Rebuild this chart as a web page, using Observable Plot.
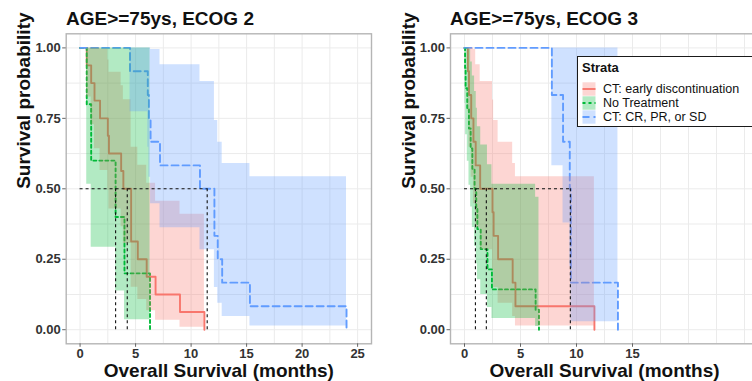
<!DOCTYPE html>
<html><head><meta charset="utf-8">
<script src="https://cdn.jsdelivr.net/npm/d3@7"></script>
<script src="https://cdn.jsdelivr.net/npm/@observablehq/plot@0.6"></script>
<style>
body{margin:0;background:#fff;font-family:"Liberation Sans",Arial,sans-serif;}
#wrap{position:relative;width:752px;height:381px;overflow:hidden;background:#fff;}
.title{position:absolute;top:9px;font-weight:bold;font-size:19px;line-height:19px;color:#111;white-space:nowrap;}
.panel{position:absolute;top:30px;height:351px;}
.panel svg{max-width:none !important;}
.legend{position:absolute;left:577px;top:56px;width:200px;height:69px;border:1.6px solid #1a1a1a;background:#fff;font-size:12.5px;color:#111;}
.legend .hd{position:absolute;left:4px;top:4px;font-weight:bold;font-size:13px;line-height:14px;}
.legend .row{position:absolute;left:4px;height:14px;line-height:14px;white-space:nowrap;}
.legend .row svg{position:absolute;left:0;top:0;}
.legend .row span{position:absolute;left:21px;top:0;}
</style></head><body>
<div id="wrap">
  <div class="title" style="left:66px">AGE&gt;=75ys, ECOG 2</div>
  <div class="title" style="left:450px">AGE&gt;=75ys, ECOG 3</div>
  <div id="p1" class="panel" style="left:0px;width:376px"></div>
  <div id="p2" class="panel" style="left:376px;width:387px"></div>
  <div class="legend" id="legend"><div class="hd">Strata</div></div>
</div>
<script>
// ---- categories & styles ----
const groups = ["CT: early discontinuation", "No Treatment", "CT: CR, PR, or SD"];
const colors = ["#F8766D", "#00BA38", "#619CFF"];
const dashes = [null, "3,3", "7,4"];

// ---- ECOG 2 (left panel) ----
const e2RedTime  = [0, 0.6, 1.0, 1.3, 1.8, 2.5, 2.6, 3.7, 3.9, 4.6, 5.2, 6.0, 6.8, 9.0, 11.2];
const e2RedSurv  = [1, 0.938, 0.875, 0.813, 0.75, 0.688, 0.625, 0.563, 0.5, 0.313, 0.25, 0.188, 0.125, 0.063, 0];
const e2RedUpper = [1, 1, 1, 1, 0.995, 0.957, 0.914, 0.866, 0.816, 0.647, 0.584, 0.52, 0.456, 0.41, 0.41];
const e2RedLower = [1, 0.826, 0.727, 0.642, 0.565, 0.494, 0.428, 0.365, 0.306, 0.151, 0.107, 0.067, 0.034, 0.009, 0.009];

const e2GreenTime  = [0, 0.6, 1.0, 3.2, 4.0, 6.3];
const e2GreenSurv  = [1, 0.8, 0.6, 0.4, 0.2, 0];
const e2GreenUpper = [1, 1, 1, 1, 1, 1];
const e2GreenLower = [1, 0.516, 0.293, 0.137, 0.035, 0.035];

const e2BlueTime  = [0, 4.5, 6.1, 6.2, 6.35, 7.2, 10.8, 12.1, 12.4, 12.8, 15.3, 24.0];
const e2BlueSurv  = [1, 0.917, 0.833, 0.75, 0.667, 0.583, 0.5, 0.333, 0.25, 0.167, 0.083, 0];
const e2BlueUpper = [1, 1, 1, 1, 0.994, 0.94, 0.881, 0.742, 0.665, 0.59, 0.543, 0.543];
const e2BlueLower = [1, 0.773, 0.647, 0.541, 0.447, 0.362, 0.284, 0.15, 0.094, 0.047, 0.013, 0.013];

const e2Medians = [4.25, 3.2, 11.45];

// ---- ECOG 3 (right panel) ----
const e3RedTime  = [0, 0.3, 0.4, 0.6, 0.8, 1.0, 1.4, 2.5, 2.6, 3.0, 4.3, 4.55, 11.6];
const e3RedSurv  = [1, 0.917, 0.833, 0.75, 0.667, 0.583, 0.5, 0.417, 0.333, 0.25, 0.167, 0.083, 0];
const e3RedUpper = [1, 1, 1, 1, 0.994, 0.94, 0.881, 0.815, 0.742, 0.665, 0.59, 0.543, 0.543];
const e3RedLower = [1, 0.773, 0.647, 0.541, 0.447, 0.362, 0.284, 0.213, 0.15, 0.094, 0.047, 0.013, 0.013];

const e3GreenTime  = [0, 0.05, 0.1, 0.25, 0.4, 0.55, 0.7, 0.9, 1.05, 1.15, 1.45, 2.05, 2.45, 6.35, 6.65];
const e3GreenSurv  = [1, 0.929, 0.857, 0.786, 0.714, 0.643, 0.571, 0.5, 0.429, 0.357, 0.286, 0.214, 0.143, 0.071, 0];
const e3GreenUpper = [1, 1, 1, 1, 0.995, 0.95, 0.9, 0.845, 0.786, 0.72, 0.655, 0.585, 0.516, 0.47, 0.47];
const e3GreenLower = [1, 0.803, 0.692, 0.598, 0.513, 0.435, 0.363, 0.296, 0.234, 0.177, 0.125, 0.079, 0.04, 0.011, 0.011];

const e3BlueTime  = [0, 7.8, 8.8, 9.4, 9.5, 13.7];
const e3BlueSurv  = [1, 0.833, 0.667, 0.5, 0.167, 0];
const e3BlueUpper = [1, 1, 1, 1, 1, 1];
const e3BlueLower = [1, 0.582, 0.379, 0.225, 0.028, 0.028];

const e3Medians = [1.95, 0.975, 9.45];

// ---- ticks ----
const xTicksLeft = [0, 5, 10, 15, 20, 25];
const xTicksRight = [0, 5, 10, 15];
const yTicks = [0, 0.25, 0.5, 0.75, 1];
const xGrid = [0, 2.5, 5, 7.5, 10, 12.5, 15, 17.5, 20, 22.5, 25];
const yGrid = [0, 0.125, 0.25, 0.375, 0.5, 0.625, 0.75, 0.875, 1];

function rows(t, s, u, l) { return t.map((d, i) => ({t: d, s: s[i], hi: u[i], lo: l[i]})); }

function panel(series, medians, xTicks, width, marginLeft) {
  const marks = [
    Plot.gridX(xGrid, {stroke: "#ebebeb", strokeOpacity: 1, strokeWidth: 1}),
    Plot.gridY(yGrid, {stroke: "#ebebeb", strokeOpacity: 1, strokeWidth: 1})
  ];
  series.forEach((d, i) => {
    marks.push(Plot.line(d, {x: "t", y: "s", curve: "step-after", stroke: colors[i], strokeWidth: 1.9,
      strokeDasharray: dashes[i] || undefined}));
  });
  series.forEach((d, i) => {
    marks.push(Plot.areaY(d, {x: "t", y1: "lo", y2: "hi", curve: "step-after", fill: colors[i], fillOpacity: 0.3}));
  });
  marks.push(
    Plot.ruleY([0.5], {x1: 0, x2: d3.max(medians), stroke: "#111", strokeWidth: 1.1, strokeDasharray: "3,3"}),
    Plot.ruleX(medians, {x: d => d, y1: 0, y2: 0.5, stroke: "#111", strokeWidth: 1.1, strokeDasharray: "3,3"}),
    Plot.frame({stroke: "#b5b5b5", strokeWidth: 1.4}),
    Plot.axisX(xTicks, {tickSize: 3.5, tickPadding: 1.7, fontSize: 13, fontWeight: "bold", stroke: "#666", fill: "#333", tickFormat: d => String(d), label: null}),
    Plot.axisY(yTicks, {tickSize: 3.5, tickPadding: 2, fontSize: 13, fontWeight: "bold", stroke: "#666", fill: "#333", tickFormat: d3.format(".2f"), label: null}),
    Plot.text(["Overall Survival (months)"], {frameAnchor: "bottom", dy: 27, fontSize: 19, fontWeight: "bold", fill: "#111", lineAnchor: "middle"}),
    Plot.text(["Survival probability"], {frameAnchor: "left", dx: -42, rotate: -90, fontSize: 19, fontWeight: "bold", fill: "#111", lineAnchor: "middle"})
  );
  const svg = Plot.plot({
    width, height: 351,
    marginLeft, marginRight: 5, marginTop: 3.3, marginBottom: 37.7,
    x: {domain: [-1.25, 26.25], axis: null},
    y: {domain: [-0.05, 1.05], axis: null},
    style: {fontFamily: "'Liberation Sans', Arial, sans-serif", background: "transparent", overflow: "visible", maxWidth: "none"},
    marks
  });
  svg.setAttribute("width", width);
  svg.setAttribute("height", 351);
  svg.style.maxWidth = "none";
  svg.style.width = width + "px";
  svg.style.height = "351px";
  return svg;
}

const s2 = [rows(e2RedTime, e2RedSurv, e2RedUpper, e2RedLower),
            rows(e2GreenTime, e2GreenSurv, e2GreenUpper, e2GreenLower),
            rows(e2BlueTime, e2BlueSurv, e2BlueUpper, e2BlueLower)];
const s3 = [rows(e3RedTime, e3RedSurv, e3RedUpper, e3RedLower),
            rows(e3GreenTime, e3GreenSurv, e3GreenUpper, e3GreenLower),
            rows(e3BlueTime, e3BlueSurv, e3BlueUpper, e3BlueLower)];

document.getElementById("p1").appendChild(panel(s2, e2Medians, xTicksLeft, 376, 65.7));
document.getElementById("p2").appendChild(panel(s3, e3Medians, xTicksRight, 387, 74));

// legend
const leg = document.getElementById("legend");
groups.forEach((g, i) => {
  const row = document.createElement("div");
  row.className = "row";
  row.style.top = (25 + i * 14) + "px";
  const dash = dashes[i] ? ` stroke-dasharray="${dashes[i]}"` : "";
  row.innerHTML = `<svg width="14" height="14"><rect x="0.5" y="0.3" width="13" height="13.4" fill="${colors[i]}" fill-opacity="0.3"/>` +
    `<line x1="0.5" x2="13.5" y1="7" y2="7" stroke="${colors[i]}" stroke-width="1.9"${dash}/></svg><span>${g}</span>`;
  leg.appendChild(row);
});
</script>
</body></html>
